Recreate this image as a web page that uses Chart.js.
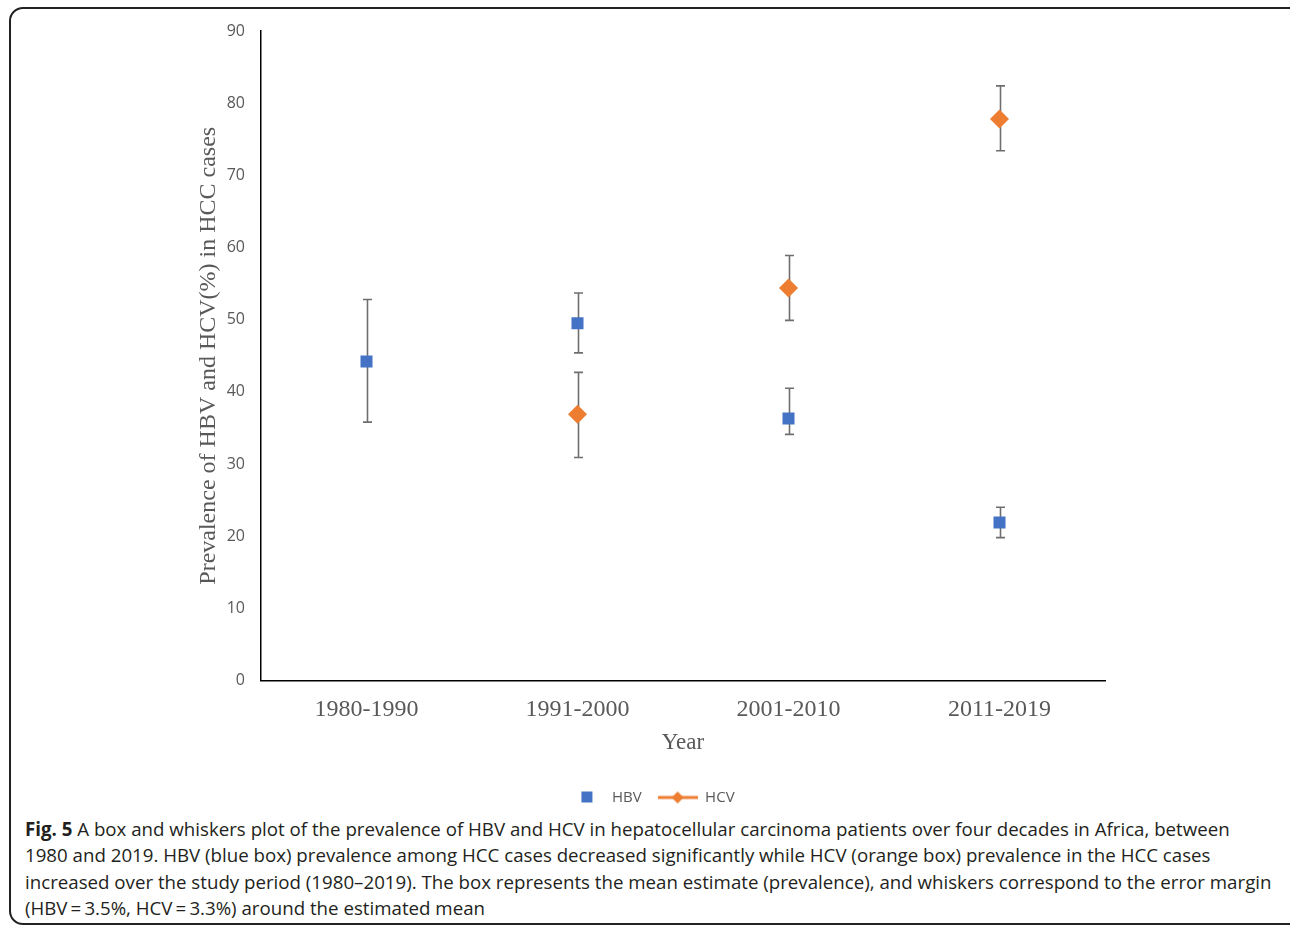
<!DOCTYPE html>
<html>
<head>
<meta charset="utf-8">
<script src="https://cdn.jsdelivr.net/npm/chart.js@4.4.1/dist/chart.umd.min.js"></script>
<style>
  html, body { margin: 0; padding: 0; background: #fff; }
  body { width: 1290px; height: 927px; position: relative; overflow: hidden; }
  #frame { position: absolute; left: 9px; top: 7px; width: 1300px; height: 918px;
    border: 2px solid #222; border-radius: 14px; box-sizing: border-box; }
  #wrap { position: absolute; left: 180px; top: 10px; width: 970px; height: 805px; }
  #caption { position: absolute; left: 25px; top: 816px; font-family: "Open Sans", sans-serif;
    font-size: 18.7px; line-height: 26.3px; color: #231f20; white-space: nowrap; }
</style>
</head>
<body>
<div id="frame"></div>
<div id="wrap"><canvas id="chart"></canvas></div>
<div id="caption">
  <b>Fig. 5</b> A box and whiskers plot of the prevalence of HBV and HCV in hepatocellular carcinoma patients over four decades in Africa, between<br>
  1980 and 2019. HBV (blue box) prevalence among HCC cases decreased significantly while HCV (orange box) prevalence in the HCC cases<br>
  increased over the study period (1980–2019). The box represents the mean estimate (prevalence), and whiskers correspond to the error margin<br>
  (HBV&#8201;=&#8201;3.5%, HCV&#8201;=&#8201;3.3%) around the estimated mean
</div>
<script>
// values
const categories = ["1980-1990", "1991-2000", "2001-2010", "2011-2019"];
const hbvMean = [44.2, 49.5, 36.3, 21.9];
const hbvLow = [35.8, 45.4, 34.1, 19.8];
const hbvHigh = [52.8, 53.7, 40.5, 24.0];
const hcvMean = [null, 36.9, 54.4, 77.8];
const hcvLow = [null, 30.9, 49.9, 73.4];
const hcvHigh = [null, 42.7, 58.9, 82.4];
const yTicks = { min: 0, max: 90, step: 10 };

const BLUE = "#4472c4";
const ORANGE = "#ed7d31";
const GREY = "#595959";

// legend swatches: plain square for HBV, line + diamond for HCV
function makeIcon(draw) {
  const c = document.createElement("canvas");
  c.width = 40;
  c.height = 16;
  draw(c.getContext("2d"));
  return c;
}
const hbvIcon = makeIcon((g) => {
  g.fillStyle = BLUE;
  g.fillRect(17, 2, 11, 11);
});
const hcvIcon = makeIcon((g) => {
  g.strokeStyle = ORANGE;
  g.lineWidth = 3;
  g.beginPath();
  g.moveTo(0, 8);
  g.lineTo(40, 8);
  g.stroke();
  g.fillStyle = ORANGE;
  g.beginPath();
  g.moveTo(20, 2);
  g.lineTo(26, 8);
  g.lineTo(20, 14);
  g.lineTo(14, 8);
  g.closePath();
  g.fill();
});

const whiskers = {
  id: "whiskers",
  beforeDatasetsDraw(chart) {
    const { ctx, scales } = chart;
    const x = scales.x;
    const y = scales.y;
    ctx.save();
    ctx.strokeStyle = "#6e6e6e";
    ctx.lineWidth = 1.6;
    [[hbvLow, hbvHigh], [hcvLow, hcvHigh]].forEach(([lo, hi]) => {
      categories.forEach((_, i) => {
        if (lo[i] == null) return;
        const px = Math.round(x.getPixelForValue(i)) + 0.5;
        const top = y.getPixelForValue(hi[i]);
        const bot = y.getPixelForValue(lo[i]);
        ctx.beginPath();
        ctx.moveTo(px, top);
        ctx.lineTo(px, bot);
        ctx.moveTo(px - 4.5, top);
        ctx.lineTo(px + 4.5, top);
        ctx.moveTo(px - 4.5, bot);
        ctx.lineTo(px + 4.5, bot);
        ctx.stroke();
      });
    });
    ctx.restore();
  },
};

new Chart(document.getElementById("chart"), {
  type: "line",
  data: {
    labels: categories,
    datasets: [
      {
        label: "HBV",
        data: hbvMean,
        showLine: false,
        pointStyle: "rect",
        pointRadius: 8.5,
        pointHoverRadius: 8.5,
        backgroundColor: BLUE,
        borderColor: BLUE,
        pointBorderWidth: 0,
      },
      {
        label: "HCV",
        data: hcvMean,
        showLine: false,
        pointStyle: "rectRot",
        pointRadius: 9.5,
        pointHoverRadius: 9.5,
        backgroundColor: ORANGE,
        borderColor: ORANGE,
        pointBorderWidth: 0,
      },
    ],
  },
  options: {
    responsive: true,
    maintainAspectRatio: false,
    animation: false,
    layout: { padding: { top: 21, right: 45, left: 14, bottom: 0 } },
    plugins: {
      tooltip: { enabled: false },
      legend: {
        position: "bottom",
        labels: {
          usePointStyle: true,
          pointStyleWidth: 40,
          padding: 16,
          color: GREY,
          font: { family: "Open Sans", size: 15 },
          generateLabels(chart) {
            const items = Chart.defaults.plugins.legend.labels.generateLabels(chart);
            items[0].pointStyle = hbvIcon;
            items[1].pointStyle = hcvIcon;
            return items;
          },
        },
      },
    },
    scales: {
      x: {
        offset: true,
        grid: { display: false },
        border: { display: true, color: "#000", width: 1.5 },
        ticks: { color: GREY, padding: 7, font: { family: "Liberation Serif", size: 24 } },
        title: {
          display: true,
          text: "Year",
          color: GREY,
          padding: { top: 0, bottom: 17 },
          font: { family: "Liberation Serif", size: 23 },
        },
        afterFit(scale) { scale.height = 93.5; },
      },
      y: {
        min: yTicks.min,
        max: yTicks.max,
        grid: { display: false },
        border: { display: true, color: "#000", width: 1.5 },
        ticks: { stepSize: yTicks.step, color: GREY, padding: 8, font: { family: "Open Sans", size: 16 } },
        title: {
          display: true,
          text: "Prevalence of HBV and HCV(%) in HCC cases",
          color: GREY,
          padding: { top: 0, bottom: 0 },
          font: { family: "Liberation Serif", size: 24 },
        },
        afterFit(scale) { scale.width = 67; },
      },
    },
  },
  plugins: [whiskers],
});
</script>
</body>
</html>
